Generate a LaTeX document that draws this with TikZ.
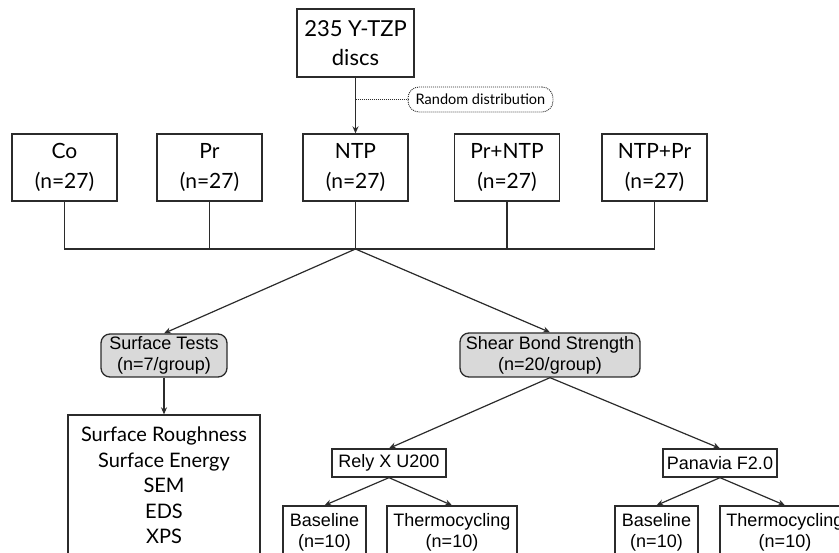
\documentclass[tikz,border=0pt]{standalone}
\usepackage{fontspec}
\setmainfont{Liberation Sans}
\newfontfamily\avfont{Lato}
\usetikzlibrary{arrows.meta}
\definecolor{linecol}{HTML}{2B2B2B}
\definecolor{grayfill}{HTML}{D9D9D9}
\begin{document}
\begin{tikzpicture}[x=1pt,y=-1pt,
  box/.style={draw=linecol, line width=1.3pt, align=center, inner sep=0pt, text=black},
  avbig/.style={font=\avfont\fontsize{22}{29}\selectfont},
  avrow/.style={font=\avfont\fontsize{21}{30}\selectfont},
  avlist/.style={font=\avfont\fontsize{20}{25.5}\selectfont},
  hv/.style={font=\fontsize{18}{21}\selectfont},
  graybox/.style={box, fill=grayfill, rounded corners=9pt},
  conn/.style={draw=linecol, line width=1.2pt},
  arr/.style={conn, -{Stealth[length=7pt,width=6pt]}}
]
\useasboundingbox (0,0) rectangle (839,553);
\clip (0,0) rectangle (839,553);

% top box
\node[box, avbig, minimum width=117pt, minimum height=68pt] (top) at (355.5,43) {235 Y-TZP\\discs};

% random distribution
\node[draw=linecol, line width=0.9pt, dash pattern=on 1pt off 1pt, rounded corners=11pt,
      minimum width=145pt, minimum height=25pt, inner sep=0pt,
      font=\avfont\fontsize{14.5}{16}\selectfont] (rand) at (480.5,99.5) {Random distribution};

% row boxes
\node[box, avrow, minimum width=105pt, minimum height=67pt] (co)   at (64.5,167.5) {Co\\(n=27)};
\node[box, avrow, minimum width=105pt, minimum height=67pt] (pr)   at (209.5,167.5) {Pr\\(n=27)};
\node[box, avrow, minimum width=105pt, minimum height=67pt] (ntp)  at (355.5,167.5) {NTP\\(n=27)};
\node[box, avrow, minimum width=105pt, minimum height=67pt] (prntp) at (507,167.5) {Pr+NTP\\(n=27)};
\node[box, avrow, minimum width=105pt, minimum height=67pt] (ntppr) at (654.5,167.5) {NTP+Pr\\(n=27)};

\draw[arr] (top) -- (ntp);
\coordinate (rd0) at (355.5,99.5);
\draw[draw=linecol, line width=0.9pt, dash pattern=on 1pt off 1pt] (rd0) -- (rand.west);

% bus
\coordinate (bus) at (355.5,249);
\draw[conn] (co.south) -- (co.south |- bus) -- (ntppr.south |- bus) -- (ntppr.south);
\draw[conn] (pr.south) -- (pr.south |- bus);
\draw[conn] (ntp.south) -- (ntp.south |- bus);
\draw[conn] (prntp.south) -- (prntp.south |- bus);

% second level
\node[graybox, hv, minimum width=126pt, minimum height=43pt] (st) at (164,355.5) {Surface Tests\\(n=7/group)};
\node[graybox, hv, minimum width=180pt, minimum height=44pt] (sbs) at (550,355) {Shear Bond Strength\\(n=20/group)};

\draw[arr] (bus) -- (st.north);
\draw[arr] (bus) -- (sbs.north);

% surface tests list
\node[box, avlist, minimum width=192pt, minimum height=141pt] (list) at (164,485.5)
  {Surface Roughness\\Surface Energy\\SEM\\EDS\\XPS};
\draw[arr] (st.south) -- (list.north);

% cements
\node[box, hv, minimum width=114pt, minimum height=28pt] (rely) at (389,463) {Rely X U200};
\node[box, hv, minimum width=114pt, minimum height=28pt] (pan) at (720,463) {Panavia F2.0};
\draw[arr] (sbs.south) -- (rely.north);
\draw[arr] (sbs.south) -- (pan.north);

% bottom
\node[box, hv, minimum width=83pt, minimum height=52pt] (b1) at (324.5,532) {Baseline\\(n=10)};
\node[box, hv, minimum width=130pt, minimum height=52pt] (t1) at (452,532) {Thermocycling\\(n=10)};
\node[box, hv, minimum width=83pt, minimum height=52pt] (b2) at (656.5,532) {Baseline\\(n=10)};
\node[box, hv, minimum width=130pt, minimum height=52pt] (t2) at (785,532) {Thermocycling\\(n=10)};
\draw[arr] (rely.south) -- (b1.north);
\draw[arr] (rely.south) -- (t1.north);
\draw[arr] (pan.south) -- (b2.north);
\draw[arr] (pan.south) -- (t2.north);
\end{tikzpicture}
\end{document}
